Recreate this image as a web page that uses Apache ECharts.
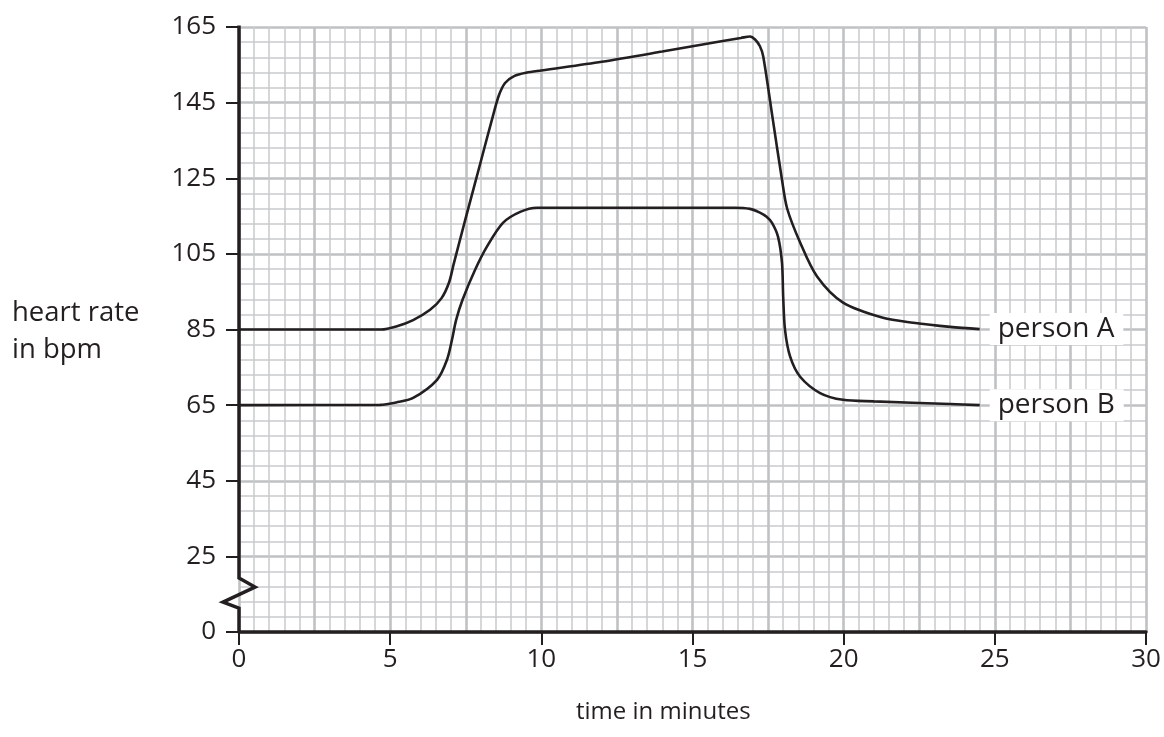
<!DOCTYPE html>
<html>
<head>
<meta charset="utf-8">
<script src="https://cdn.jsdelivr.net/npm/echarts@6/dist/echarts.min.js"></script>
<style>
html,body{margin:0;padding:0;background:#fff;}
#chart{width:1164px;height:737px;}
</style>
</head>
<body>
<div id="chart"></div>
<script>
// ---- data ----
const timesA = [0, 4.7, 5.2, 5.76, 6.32, 6.7, 6.95, 7.1, 7.5, 8.0, 8.4, 8.6, 8.8, 9.1, 9.5, 10, 12, 14, 16, 16.6, 16.9, 17.07, 17.23, 17.34, 17.65, 17.96, 18.13, 18.56, 19.12, 19.98, 21.3, 22.3, 23.52, 24.5];
const rateA  = [85, 85, 85.8, 87.5, 90.2, 93.3, 97.5, 102.3, 114.5, 129.5, 141.5, 147, 150.2, 152, 152.9, 153.5, 155.8, 158.5, 161.3, 162.1, 162.5, 161.7, 159.9, 157.2, 140.9, 124.6, 117, 108, 99, 92.1, 88.1, 86.8, 85.7, 85.1];
const timesB = [0, 4.66, 5.2, 5.76, 6.55, 6.88, 7.05, 7.18, 7.4, 7.81, 8.2, 8.73, 9.3, 9.86, 16.4, 16.9, 17.23, 17.45, 17.63, 17.83, 17.96, 18.0, 18.06, 18.23, 18.56, 19.22, 19.98, 21.0, 23.52, 24.5];
const rateB  = [65, 65.07, 65.7, 66.9, 71.7, 77, 82.5, 87.5, 93, 100.8, 106.9, 113.2, 116.1, 117.2, 117.2, 116.9, 115.9, 114.8, 113.2, 109.5, 102.6, 93.6, 84.9, 77.8, 72.5, 68.2, 66.4, 66.0, 65.3, 65];
const seriesNames = ['person A', 'person B'];
const yTickLabels = {5: '0'};   // axis break: the bottom of the axis is labelled 0
const xLabelStep = 5;
// axis break zig-zag, in data units [minutes, bpm]
const breakZig = [[0, 11.3], [-0.53, 12.9], [0.53, 16.9], [0, 19.3]];

const INK = '#231f20';
const FONT = 'Open Sans';
const chart = echarts.init(document.getElementById('chart'));

function zip(xs, ys){ return xs.map((x,i)=>[x, ys[i]]); }

const lineSeries = (name, xs, ys) => ({
  name: name, type: 'line', xAxisIndex: 1, data: zip(xs, ys),
  smooth: 0.3, showSymbol: false, symbol: 'none',
  lineStyle: {color: INK, width: 2.6},
  endLabel: {
    show: true, formatter: name, color: INK, fontFamily: FONT, fontSize: 28,
    backgroundColor: '#fff', padding: [3, 9, 1, 8], distance: 10
  },
  z: 5, silent: true, animation: false
});

chart.setOption({
  animation: false,
  grid: {left: 239, right: 18, top: 27, bottom: 105, containLabel: false},
  xAxis: [
    { type: 'value', min: 0, max: 30, interval: 2.5, position: 'bottom',
      axisLine: {show: false}, axisTick: {show: false}, axisLabel: {show: false},
      splitLine: {show: true, lineStyle: {color: '#bfc1c3', width: 2.6}},
      minorTick: {show: false, splitNumber: 5},
      minorSplitLine: {show: true, lineStyle: {color: '#c9cacc', width: 1.5}} },
    { type: 'value', min: 0, max: 30, interval: xLabelStep, position: 'bottom',
      axisLine: {show: true, onZero: false, lineStyle: {color: INK, width: 3.5}},
      axisTick: {show: true, length: 13, lineStyle: {color: INK, width: 2}},
      axisLabel: {show: true, margin: 15, color: INK, fontFamily: FONT, fontSize: 26},
      splitLine: {show: false} }
  ],
  yAxis: {
    type: 'value', min: 5, max: 165, interval: 20,
    axisLine: {show: false},
    axisTick: {show: true, length: 13, lineStyle: {color: INK, width: 2}},
    axisLabel: {show: true, margin: 23, color: INK, fontFamily: FONT, fontSize: 26,
      formatter: v => (yTickLabels[v] !== undefined ? yTickLabels[v] : String(v))},
    splitLine: {show: true, lineStyle: {color: '#bfc1c3', width: 2.6}},
    minorTick: {show: false, splitNumber: 5},
    minorSplitLine: {show: true, lineStyle: {color: '#c9cacc', width: 1.5}}
  },
  series: [
    lineSeries(seriesNames[0], timesA, rateA),
    lineSeries(seriesNames[1], timesB, rateB)
  ]
});

// left axis line with break, drawn from data-unit positions
const conv = p => chart.convertToPixel({xAxisIndex: 1, yAxisIndex: 0}, p);
const axisPts = [[0, 5]].concat(breakZig).concat([[0, 165]]).map(conv);
axisPts[axisPts.length - 1][1] -= 1.5;
chart.setOption({
  graphic: [
    { type: 'polyline', shape: {points: axisPts}, z: 10,
      style: {stroke: INK, lineWidth: 3.5, fill: null, lineJoin: 'miter'} },
    { type: 'text', left: 12, top: 295, z: 10,
      style: {text: 'heart rate\nin bpm', fill: INK, font: '27.5px "Open Sans"', lineHeight: 37} },
    { type: 'text', left: 576, top: 700, z: 10,
      style: {text: 'time in minutes', fill: INK, font: '24px "Open Sans"'} }
  ]
});
</script>
</body>
</html>
